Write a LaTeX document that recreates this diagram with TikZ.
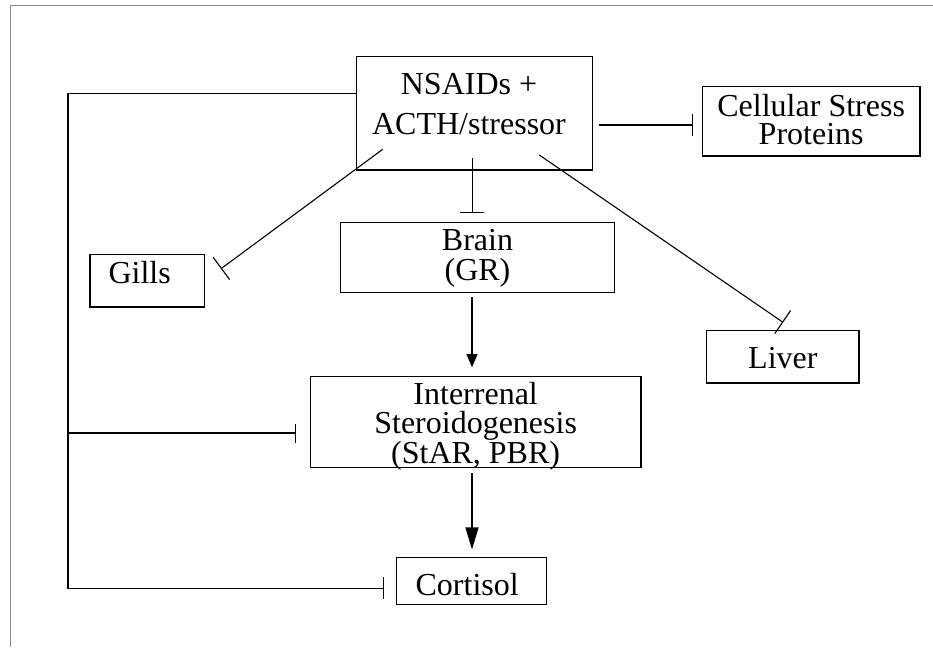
\documentclass[tikz,border=0pt]{standalone}
\usepackage{fontspec}
\setmainfont{Liberation Serif}
\usepackage{tikz}
\usetikzlibrary{arrows.meta}
\definecolor{cframe}{HTML}{8A8A8A}

\begin{document}
\begin{tikzpicture}[
  x=1pt, y=-1pt,
  font=\fontsize{32}{30}\selectfont,
  box/.style={draw, line width=1.1pt, inner sep=0pt, align=center},
  inh/.style={line width=1.1pt, -{Bar[width=#1]}},
  inh/.default=24pt,
  act/.style={line width=1.1pt, -{Triangle[length=13pt,width=11pt]}},
  bigact/.style={line width=1.1pt, -{Triangle[length=22pt,width=13pt]}},
]
\useasboundingbox (0,0) rectangle (933,647);
% ---------- frame ----------
\draw[cframe, line width=1pt] (10,647) -- (10,6) -- (933,6);
% ---------- boxes ----------
\node[box, minimum width=235.6pt, font=\fontsize{32}{40}\selectfont] (nsaids) at (474.5,113.35)
  {\rule{0pt}{38.3pt}NSAIDs +\kern11pt\\ACTH/stressor\kern11pt\rule[-35pt]{0pt}{35pt}};
\node[box, minimum width=217.7pt, font=\fontsize{32}{28.3}\selectfont] (cellular) at (811.15,121.35)
  {\rule{0pt}{30pt}Cellular Stress\\Proteins\rule[-11pt]{0pt}{11pt}};
\node[box, minimum width=114.3pt] (gills) at (147.15,280.65)
  {\rule{0pt}{29pt}Gills\kern15pt\rule[-23.7pt]{0pt}{23.7pt}};
\node[box, minimum width=273.6pt] (brain) at (477.5,257.25)
  {\rule{0pt}{27.7pt}Brain\\(GR)\rule[-12.2pt]{0pt}{12.2pt}};
\node[box, minimum width=152.3pt] (liver) at (782.85,356.65)
  {\rule{0pt}{38pt}Liver\rule[-14.7pt]{0pt}{14.7pt}};
\node[box, minimum width=330.7pt, font=\fontsize{32}{29}\selectfont] (interrenal) at (475.65,422)
  {\rule{0pt}{28pt}Interrenal\\Steroidogenesis\\\raisebox{0pt}[\height][0pt]{(StAR, PBR)}\rule[-4pt]{0pt}{4pt}};
\node[box, minimum width=150pt] (cortisol) at (471.7,581)
  {\rule{0pt}{37.3pt}Cortisol\kern9pt\rule[-9.3pt]{0pt}{9.3pt}};
% ---------- inhibition by the treatment ----------
\draw[inh=22pt] ([xshift=5.7pt,yshift=-11.65pt]nsaids.east) -- ([xshift=-9pt,yshift=-3.65pt]cellular.west);
\draw[inh=28pt, shorten >=20pt] ([shift={(-91.8,35.95)}]nsaids.center) -- (gills.east);
\draw[inh, shorten >=8.3pt] ([shift={(-2.2,44.95)}]nsaids.center) -- ([xshift=-5.2pt]brain.north);
\draw[inh=28pt, shorten >=13pt] ([shift={(64.8,41.65)}]nsaids.center) -- ([xshift=11pt]liver.north);
% ---------- feedback loop ----------
\coordinate (loop) at (68,433);
\draw[inh=22pt, shorten >=11.7pt] ([yshift=20.05pt]nsaids.west) -| (loop) |- ([yshift=-7.3pt]cortisol.west);
\draw[inh=19pt, shorten >=13.6pt] (loop) -- (loop -| interrenal.west);
% ---------- axis ----------
\draw[act] ([xshift=-5.5pt,yshift=-4.5pt]brain.south) -- ([xshift=-3.65pt,yshift=8.7pt]interrenal.north);
\draw[bigact] ([xshift=-3.65pt,yshift=-5.3pt]interrenal.south) -- ([xshift=0.3pt,yshift=7.7pt]cortisol.north);
\end{tikzpicture}
\end{document}
